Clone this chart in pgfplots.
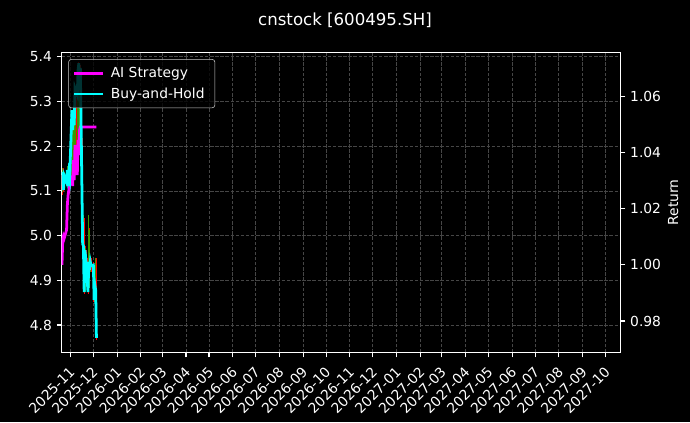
\documentclass[border=0pt]{standalone}
\usepackage{fontspec}
\setmainfont{DejaVu Sans}
\usepackage{pgfplots}
\pgfplotsset{compat=1.18}
\usepackage{pgfplotstable}

\definecolor{gridgray}{RGB}{70,70,70}
\definecolor{candlered}{RGB}{255,0,0}
\definecolor{candlegreen}{RGB}{60,150,0}
\definecolor{aimag}{RGB}{255,0,255}
\definecolor{bhcyan}{RGB}{0,255,255}

% x = days since 2025-11-01
% candles: open high low close
\pgfplotstableread{
d o h l c
-11 5.135 5.147 5.091 5.102
-9 5.142 5.151 5.097 5.106
-5 5.129 5.142 5.111 5.120
-3 5.147 5.155 5.102 5.111
-1 5.135 5.147 5.120 5.129
3 5.247 5.263 5.147 5.158
5 5.240 5.254 5.135 5.142
9 5.308 5.325 5.180 5.191
11 5.343 5.388 5.225 5.236
13 5.352 5.381 5.202 5.214
16 5.209 5.218 4.972 4.981
18 5.030 5.039 4.869 4.878
20 4.968 4.976 4.936 4.945
23 4.950 4.956 4.869 4.878
25 5.008 5.017 4.914 4.923
27 4.941 4.950 4.918 4.927
30 4.927 4.941 4.851 4.860
32 4.883 4.900 4.860 4.869
34 4.941 4.950 4.766 4.771
}\redcandles

\pgfplotstableread{
d o h l c
-10 5.106 5.151 5.097 5.142
-8 5.111 5.142 5.102 5.133
-4 5.120 5.155 5.113 5.147
-2 5.113 5.147 5.106 5.138
2 5.133 5.281 5.129 5.258
4 5.169 5.258 5.151 5.247
6 5.158 5.330 5.151 5.314
10 5.196 5.370 5.187 5.348
12 5.240 5.375 5.232 5.359
17 4.981 5.046 4.968 5.035
19 4.883 4.972 4.874 4.963
24 4.883 5.046 4.874 5.012
26 4.927 4.954 4.918 4.941
31 4.860 4.891 4.851 4.883
33 4.874 4.950 4.865 4.941
}\greencandles

% cumulative returns
\pgfplotstableread{
d ai bh
-11 1.0000 1.0284
-10 1.0088 1.0330
-9 1.0102 1.0266
-8 1.0095 1.0316
-5 1.0124 1.0294
-4 1.0212 1.0337
-3 1.0248 1.0280
-2 1.0266 1.0323
-1 1.0284 1.0308
2 1.0308 1.0550
3 1.0280 1.0479
4 1.0372 1.0543
5 1.0301 1.0497
6 1.0426 1.0628
9 1.0319 1.0604
10 1.0444 1.0692
11 1.0390 1.0717
12 1.0479 1.0621
13 1.0490 1.0700
16 1.0490 1.0074
17 1.0490 1.0067
18 1.0490 0.9903
19 1.0490 1.0052
20 1.0490 1.0024
23 1.0490 0.9903
24 1.0490 1.0010
25 1.0490 0.9981
26 1.0490 1.0010
27 1.0490 0.9996
30 1.0490 0.9999
31 1.0490 0.9875
32 1.0490 0.9928
33 1.0490 0.9910
34 1.0490 0.9740
}\returns

\pgfplotsset{
  darkaxis/.style={
    scale only axis,
    width=402.4bp, height=216bp,
    at={(44.35bp,50.04bp)}, anchor=south west,
    xmin=-11.5, xmax=718.6,
    axis line style={white, line width=0.8pt},
    tick style={white, line width=0.8pt},
    major tick length=3.5pt,
    tick align=outside,
    ticklabel style={text=white, font=\fontsize{10}{12}\selectfont},
    label style={text=white, font=\fontsize{10}{12}\selectfont},
    /pgf/number format/assume math mode=true,
  },
}

\begin{document}
\begin{tikzpicture}
\path[use as bounding box] (0,0) rectangle (496.8bp,303.84bp);
\fill[black] (0,0) rectangle (496.8bp,303.84bp);

\begin{axis}[
  darkaxis,
  ymin=4.7385, ymax=5.4094,
  xtick pos=bottom, ytick pos=left,
  ytick={4.8,4.9,5.0,5.1,5.2,5.3,5.4},
  yticklabel style={/pgf/number format/.cd, fixed, fixed zerofill, precision=1},
  xtick={0,30,61,92,120,151,181,212,242,273,304,334,365,395,426,457,485,516,546,577,607,638,669,699},
  xticklabels={2025-11,2025-12,2026-01,2026-02,2026-03,2026-04,2026-05,2026-06,2026-07,2026-08,2026-09,2026-10,2026-11,2026-12,2027-01,2027-02,2027-03,2027-04,2027-05,2027-06,2027-07,2027-08,2027-09,2027-10},
  xticklabel style={rotate=45, anchor=north east, xshift=-2pt},
  grid=major,
  major grid style={gridgray, line width=0.5pt, dash pattern=on 2.5pt off 1.2pt},
  ylabel={Price},
  every axis y label/.style={at={(axis description cs:-0.0798,0.5)}, rotate=90, anchor=center},
]
% wicks
\addplot[forget plot, draw=none, mark=none,
  error bars/.cd, y dir=plus, y explicit, error mark=none,
  error bar style={draw=candlered, line width=0.6pt}]
  table[x=d, y=l, y error expr=\thisrow{h}-\thisrow{l}] {\redcandles};
\addplot[forget plot, draw=none, mark=none,
  error bars/.cd, y dir=plus, y explicit, error mark=none,
  error bar style={draw=candlegreen, line width=0.6pt}]
  table[x=d, y=l, y error expr=\thisrow{h}-\thisrow{l}] {\greencandles};
% bodies
\addplot[forget plot, draw=none, mark=none,
  error bars/.cd, y dir=plus, y explicit, error mark=none,
  error bar style={draw=candlered, line width=1.2pt}]
  table[x=d, y=c, y error expr=\thisrow{o}-\thisrow{c}] {\redcandles};
\addplot[forget plot, draw=none, mark=none,
  error bars/.cd, y dir=plus, y explicit, error mark=none,
  error bar style={draw=candlegreen, line width=1.2pt}]
  table[x=d, y=o, y error expr=\thisrow{c}-\thisrow{o}] {\greencandles};
\end{axis}

\begin{axis}[
  darkaxis,
  ymin=0.9688, ymax=1.0755,
  hide x axis,
  axis y line*=right,
  ytick={0.98,1.00,1.02,1.04,1.06},
  yticklabel style={/pgf/number format/.cd, fixed, fixed zerofill, precision=2},
  legend cell align=left,
  legend image code/.code={\draw[#1] (0pt,0pt) -- (21pt,0pt);},
  legend style={at={(0.012,0.978)}, anchor=north west,
    fill=black, fill opacity=0.8, text opacity=1, draw opacity=1,
    draw=white!80!black, rounded corners=2pt, text=white,
    font=\fontsize{10}{12}\selectfont, inner xsep=3pt, inner ysep=3.5pt, row sep=2pt,
    nodes={inner xsep=4.5pt}},
]
\addplot[aimag, line width=2pt] table[x=d, y=ai] {\returns};
\addplot[bhcyan, line width=2pt] table[x=d, y=bh] {\returns};
\legend{AI Strategy, Buy-and-Hold}
\end{axis}

\node[text=white, font=\fontsize{10}{12}\selectfont, rotate=90] at (484.6bp,158.0bp) {Return};
\node[text=white, font=\fontsize{12}{14}\selectfont] at (248.4bp,289.4bp) {cnstock [600495.SH]};
\end{tikzpicture}
\end{document}
